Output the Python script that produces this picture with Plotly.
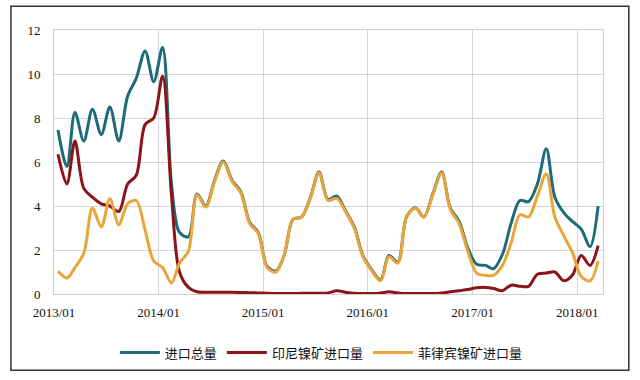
import plotly.graph_objects as go
import pandas as pd

months = [pd.Timestamp(y, m, 15) for y in range(2013, 2019) for m in range(1, 13)][:63]

total = [7.45, 5.8, 8.25, 6.95, 8.4, 7.25, 8.5, 6.95, 9.0, 9.8, 11.05, 9.65,
         11.2, 5.0, 2.8, 2.6, 4.55, 4.0, 5.15, 6.05, 5.15, 4.65, 3.25, 2.8,
         1.25, 1.05, 1.75, 3.4, 3.5, 4.4, 5.55, 4.3, 4.45, 3.8, 3.05, 1.75,
         1.1, 0.65, 1.75, 1.45, 3.5, 3.92, 3.5, 4.55, 5.55, 3.9, 3.3, 2.1,
         1.35, 1.3, 1.15, 1.8, 3.2, 4.25, 4.2, 5.0, 6.6, 4.4, 3.7, 3.3,
         2.95, 2.15, 4.0]

indonesia = [6.35, 5.0, 6.95, 4.8, 4.4, 4.1, 4.0, 3.75, 5.0, 5.4, 7.7, 8.0,
             9.9, 4.5, 1.0, 0.3, 0.1, 0.08, 0.08, 0.08, 0.08, 0.07, 0.06, 0.05,
             0.03, 0.02, 0.02, 0.02, 0.03, 0.03, 0.03, 0.05, 0.15, 0.08, 0.03, 0.02,
             0.02, 0.05, 0.1, 0.05, 0.02, 0.02, 0.02, 0.02, 0.05, 0.1, 0.15, 0.2,
             0.28, 0.3, 0.25, 0.15, 0.4, 0.35, 0.35, 0.9, 0.95, 1.0, 0.6, 0.85,
             1.75, 1.3, 2.2]

philippines = [1.03, 0.73, 1.2, 1.85, 3.9, 3.05, 4.33, 3.15, 4.1, 4.25, 2.9, 1.5,
               1.2, 0.5, 1.4, 1.95, 4.5, 3.95, 5.1, 6.0, 5.1, 4.6, 3.2, 2.75,
               1.2, 1.0, 1.75, 3.4, 3.5, 4.35, 5.5, 4.25, 4.35, 3.75, 3.0, 1.7,
               1.05, 0.6, 1.7, 1.4, 3.5, 3.9, 3.5, 4.5, 5.5, 3.85, 3.2, 1.95,
               0.95, 0.85, 0.85, 1.3, 2.3, 3.6, 3.5, 4.45, 5.45, 3.5, 2.65, 1.9,
               0.8, 0.6, 1.5]

names = ["进口总量", "印尼镍矿进口量", "菲律宾镍矿进口量"]
colors = ["#1d6a78", "#8a1418", "#eaa53a"]
tick_vals = [pd.Timestamp(y, 1, 1) for y in range(2013, 2019)]
tick_text = ["2013/01", "2014/01", "2015/01", "2016/01", "2017/01", "2018/01"]
y_ticks = [0, 2, 4, 6, 8, 10, 12]

fig = go.Figure()
for series, name, color in zip([total, indonesia, philippines], names, colors):
    fig.add_trace(go.Scatter(
        x=months, y=series, name=name, mode="lines",
        line=dict(color=color, width=3, shape="spline", smoothing=0.9),
    ))

fig.update_layout(
    width=640, height=380,
    margin=dict(l=54, r=37, t=30, b=84),
    paper_bgcolor="white", plot_bgcolor="white",
    showlegend=True,
    legend=dict(orientation="h", x=0.487, xanchor="center", y=-0.222, yanchor="middle",
                font=dict(family="Noto Sans CJK SC", size=13, color="#111"),
                itemwidth=40, tracegroupgap=0),
    font=dict(family="Liberation Serif", size=13, color="#111"),
)
fig.update_xaxes(
    type="date", range=[pd.Timestamp(2013, 1, 1), pd.Timestamp(2018, 4, 1)],
    tickvals=tick_vals, ticktext=tick_text, showgrid=True, gridcolor="#d4d4d8",
    gridwidth=1, showline=True, linecolor="#cfcfd4", mirror=True, ticks="",
    tickfont=dict(family="Liberation Serif", size=13, color="#111"),
    ticklabelstandoff=6, zeroline=False,
)
fig.update_yaxes(
    range=[0, 12], tickvals=y_ticks, showgrid=True, gridcolor="#d4d4d8",
    gridwidth=1, showline=True, linecolor="#cfcfd4", mirror=True, ticks="",
    tickfont=dict(family="Liberation Serif", size=13, color="#111"),
    ticklabelstandoff=10, zeroline=False,
)
fig.add_shape(type="rect", xref="paper", yref="paper",
              x0=-0.0785, x1=1.047, y0=-0.289, y1=1.090,
              line=dict(color="#333", width=1.5), fillcolor="rgba(0,0,0,0)", layer="below")

fig.write_html("out.html")
